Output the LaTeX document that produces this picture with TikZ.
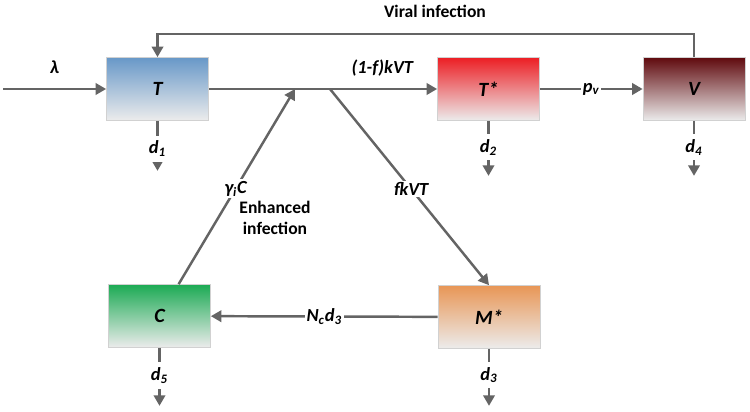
\documentclass[tikz,border=0pt]{standalone}
\usepackage{fontspec}
\setmainfont{Carlito}
\usetikzlibrary{arrows.meta}
\definecolor{edgegray}{RGB}{100,100,100}
\definecolor{boxblue}{RGB}{104,152,200}
\definecolor{boxred}{RGB}{236,30,36}
\definecolor{boxmaroon}{RGB}{96,10,14}
\definecolor{boxgreen}{RGB}{28,170,84}
\definecolor{boxorange}{RGB}{232,150,86}
\definecolor{boxbottom}{RGB}{236,236,236}
\begin{document}
\begin{tikzpicture}[x=0.02cm,y=-0.02cm,
           font=\fontsize{10.5}{12}\selectfont\bfseries\itshape,
           box_style/.style={rectangle,draw=black!18,minimum width=2.04cm,minimum height=1.26cm,bottom color=boxbottom,font=\fontsize{11.5}{13}\selectfont\bfseries\itshape},
           box_blue/.style={box_style,top color=boxblue},
           box_red/.style={box_style,top color=boxred},
           box_maroon/.style={box_style,top color=boxmaroon},
           box_green/.style={box_style,top color=boxgreen},
           box_orange/.style={box_style,top color=boxorange},
           edge_style/.style={draw=edgegray,line width=1.4pt,-{Triangle[length=6pt,width=6.5pt]}},
           label_style/.style={fill=white,inner sep=1pt},
           note_style/.style={font=\fontsize{10}{12}\selectfont\bfseries,align=center}]
            \useasboundingbox (0,0) rectangle (750,412);
            \node[box_blue] (T) at (157.5, 89)  {T};
            \node[box_red] (Ts) at (488.5, 89)  {T*};
            \node[box_maroon] (V) at (694, 89)  {V};
            \node[box_green] (C) at (159.5, 316)  {C};
            \node[box_orange] (Ms) at (489, 317)  {M*};
            \coordinate (in) at (3, 89);
            \coordinate (j1) at (295, 89);
            \coordinate (j2) at (330, 89);
            \draw[edge_style]  (in) -- node[above=5pt]{λ} (T);
            \draw[edge_style]  (T) -- (Ts) node[pos=0.76,above=3pt]{(1-f)kVT};
            \draw[edge_style]  (Ts) -- (V) node[pos=0.5,label_style]{p\textsubscript{v}};
            \draw[edge_style]  (V.north) -- ++(0,-23) -| (T.north);
            \draw[edge_style]  (C.59) -- (j1) node[pos=0.49,label_style]{γ\textsubscript{i}C};
            \draw[edge_style]  (j2) -- (Ms.north) node[pos=0.51,label_style]{fkVT};
            \draw[edge_style]  (Ms) -- (C) node[pos=0.5,label_style]{N\textsubscript{c}d\textsubscript{3}};
            % decay terms
            \draw[edge_style]  (T.south) -- ++(0,50) node[pos=0.56,fill=white,inner sep=3pt]{d\textsubscript{1}};
            \draw[edge_style]  (Ts.south) -- ++(0,55) node[pos=0.48,fill=white,inner sep=3pt]{d\textsubscript{2}};
            \draw[edge_style]  (V.south) -- ++(0,55) node[pos=0.48,fill=white,inner sep=3pt]{d\textsubscript{4}};
            \draw[edge_style]  (C.south) -- ++(0,58) node[pos=0.48,fill=white,inner sep=3pt]{d\textsubscript{5}};
            \draw[edge_style]  (Ms.south) -- ++(0,57) node[pos=0.46,fill=white,inner sep=3pt]{d\textsubscript{3}};
            \node[note_style] (viral) at (435, 11) {Viral infection};
            \node[note_style] (enh) at (275, 218) {Enhanced\\infection};
        \end{tikzpicture}
\end{document}
